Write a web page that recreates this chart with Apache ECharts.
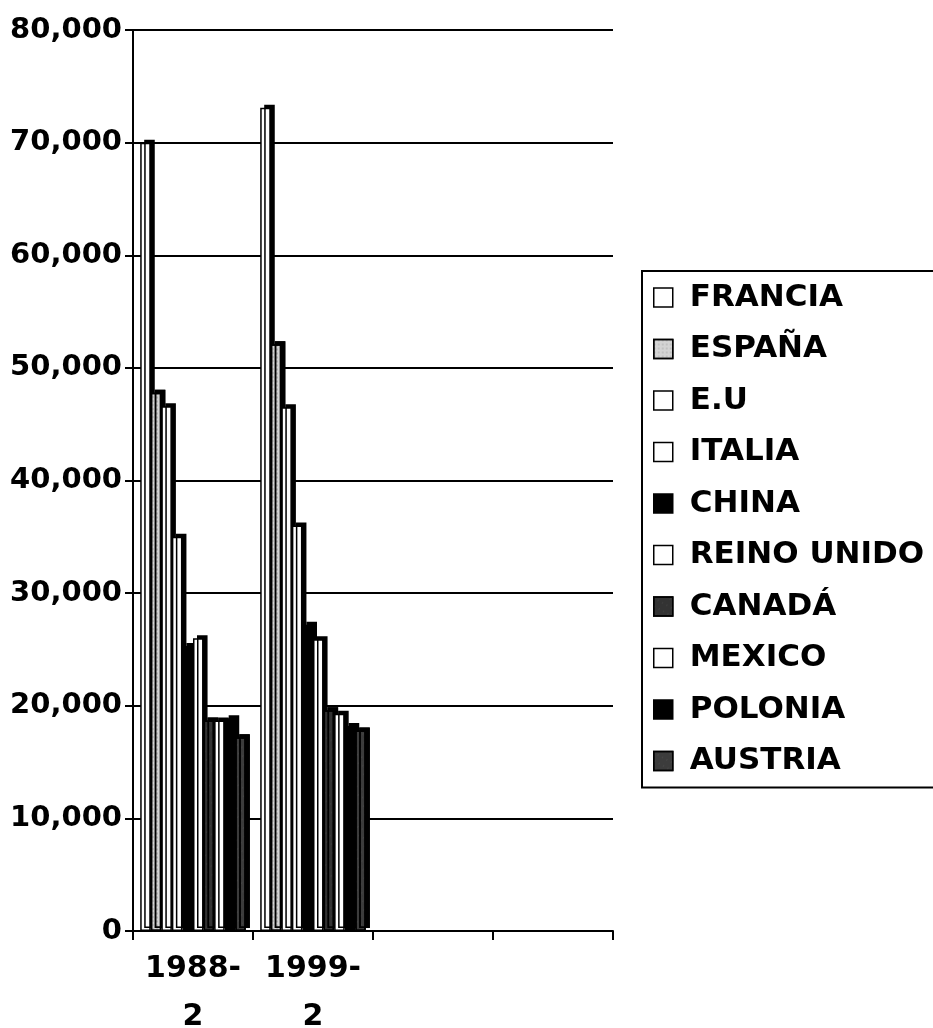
<!DOCTYPE html>
<html>
<head>
<meta charset="utf-8">
<script src="https://cdn.jsdelivr.net/npm/echarts@6/dist/echarts.min.js"></script>
<style>
  html, body { margin: 0; padding: 0; background: #fff; }
  #chart { width: 933px; height: 1028px; }
</style>
</head>
<body>
<div id="chart"></div>
<script>
// periods (two empty slots on the right, as in the original)
let periods = ['1988-\n2', '1999-\n2', '', ''];
let countries = ['FRANCIA', 'ESPAÑA', 'E.U', 'ITALIA', 'CHINA', 'REINO UNIDO', 'CANADÁ', 'MEXICO', 'POLONIA', 'AUSTRIA'];
let values1988 = [70000, 47800, 46600, 35000, 25300, 26000, 18700, 18700, 18900, 17200];
let values1999 = [73100, 52100, 46500, 36000, 27200, 25900, 19600, 19300, 18200, 17800];
let yTicks = [0, 80000, 10000];

// fill of each bar, in series order
let fills = ['#fff', '#d4d4d4', '#fff', '#fff', '#000', '#fff', '#333', '#fff', '#000', '#3c3c3c'];
let decals = [null, 'dot', null, null, null, null, 'speck', null, null, 'speck'];

let font = 'DejaVu Sans';

function makeDecal(kind) {
    if (kind === 'dot') {
        return { symbol: 'rect', symbolSize: 0.5, color: 'rgba(0,0,0,0.35)', dashArrayX: [2, 2], dashArrayY: [2, 2], rotation: 0 };
    }
    if (kind === 'speck') {
        return { symbol: 'rect', symbolSize: 0.4, color: 'rgba(255,255,255,0.25)', dashArrayX: [1, 4], dashArrayY: [2, 5], rotation: 0.5 };
    }
    return null;
}

let series = [];
for (let i = 0; i < countries.length; i++) {
    let style = {
        color: fills[i],
        borderColor: '#000',
        borderWidth: 1.5,
        shadowColor: '#000',
        shadowBlur: 0,
        shadowOffsetX: 4,
        shadowOffsetY: -3
    };
    let d = makeDecal(decals[i]);
    if (d) style.decal = d;
    series.push({
        name: countries[i],
        type: 'bar',
        barGap: '0%',
        barCategoryGap: '12%',
        data: [values1988[i], values1999[i], null, null],
        itemStyle: style
    });
}

let option = {
    animation: false,
    backgroundColor: '#fff',
    grid: { left: 133, right: 320, top: 30, bottom: 97, outerBoundsMode: 'none', containLabel: false },
    legend: {
        orient: 'vertical',
        left: 642,
        top: 271,
        width: 300,
        padding: [11, 60, 11, 11],
        itemGap: 20.5,
        itemWidth: 19,
        itemHeight: 19,
        borderColor: '#000',
        borderWidth: 2,
        icon: 'rect',
        data: countries,
        itemStyle: {
            borderColor: '#000',
            borderWidth: 1.5,
            shadowColor: 'transparent',
            shadowOffsetX: 0,
            shadowOffsetY: 0
        },
        textStyle: {
            fontFamily: font,
            fontWeight: 'bold',
            fontSize: 31,
            lineHeight: 30,
            color: '#000',
            padding: [0, 0, 0, 12]
        }
    },
    xAxis: {
        type: 'category',
        data: periods,
        axisLine: { lineStyle: { color: '#000', width: 2 } },
        axisTick: { show: true, interval: 0, length: 9, lineStyle: { color: '#000', width: 2 } },
        axisLabel: {
            interval: 0,
            margin: 14,
            fontFamily: font,
            fontWeight: 'bold',
            fontSize: 30,
            lineHeight: 48,
            color: '#000'
        }
    },
    yAxis: {
        type: 'value',
        min: yTicks[0],
        max: yTicks[1],
        interval: yTicks[2],
        axisLine: { show: true, lineStyle: { color: '#000', width: 2 } },
        axisTick: { show: true, length: 8, lineStyle: { color: '#000', width: 2 } },
        splitLine: { lineStyle: { color: '#000', width: 2 } },
        axisLabel: {
            margin: 11,
            fontFamily: font,
            fontWeight: 'bold',
            fontSize: 29,
            color: '#000',
            formatter: function (v) { return v.toLocaleString('en-US'); }
        }
    },
    series: series
};

echarts.init(document.getElementById('chart')).setOption(option);
</script>
</body>
</html>
